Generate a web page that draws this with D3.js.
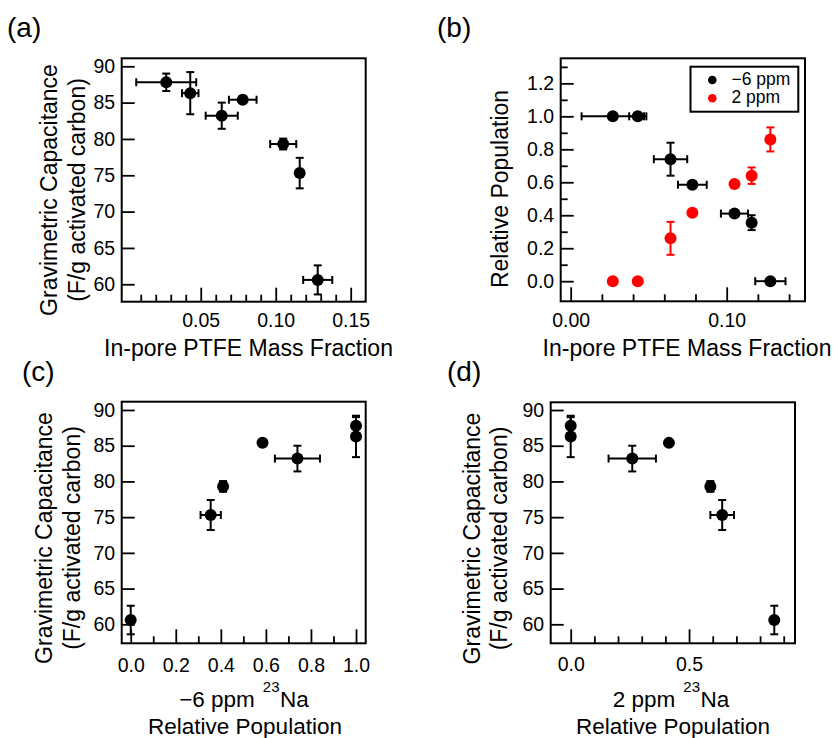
<!DOCTYPE html>
<html>
<head>
<meta charset="utf-8">
<script src="https://cdn.jsdelivr.net/npm/d3@7"></script>
<style>
  body { margin: 0; background: #fff; }
  svg { display: block; }
</style>
</head>
<body>
<svg id="fig" width="838" height="738"></svg>
<script>
// Seven electrodes, listed in order of increasing in-pore PTFE content
const ptfeFraction = [0.027, 0.043, 0.064, 0.078, 0.105, 0.116, 0.128];
const ptfeErr      = [0.020, 0.0055, 0.0107, 0.0092, 0.0087, 0, 0.0097];
const capacitance    = [87.8, 86.3, 83.2, 85.4, 79.3, 75.3, 60.6];
const capacitanceErr = [1.2, 2.9, 1.8, 0, 0.75, 2.1, 2.0];
// 23Na relative populations of the two environments
const popNeg6    = [1.0, 1.0, 0.74, 0.585, 0.41, 0.355, 0.0];
const popNeg6Err = [0, 0, 0.1, 0, 0, 0.045, 0];
const pop2       = [0, 0, 0.26, 0.415, 0.59, 0.64, 0.86];
const pop2Err    = [0, 0, 0.1, 0, 0, 0.05, 0.073];
const pop2XErr   = [0, 0, 0.1, 0, 0, 0.05, 0];

// Tick values
const capTicks = [60, 65, 70, 75, 80, 85, 90];
const ptfeTicksA = [0.05, 0.10, 0.15];
const ptfeMinorA = [0.01, 0.02, 0.03, 0.04, 0.06, 0.07, 0.08, 0.09, 0.11, 0.12, 0.13, 0.14];
const ptfeTicksB = [0.00, 0.10];
const ptfeMinorB = [0.02, 0.04, 0.06, 0.08, 0.12, 0.14];
const popTicksB = [0.0, 0.2, 0.4, 0.6, 0.8, 1.0, 1.2];
const popMinorB = [0.1, 0.3, 0.5, 0.7, 0.9, 1.1, 1.3];
const popTicksC = [0.0, 0.2, 0.4, 0.6, 0.8, 1.0];
const popMinorC = [0.1, 0.3, 0.5, 0.7, 0.9];
const popTicksD = [0.0, 0.5];
const popMinorD = [0.1, 0.2, 0.3, 0.4, 0.6, 0.7, 0.8, 0.9];

const FONT = '"Liberation Sans", Arial, Helvetica, sans-serif';
const BLACK = "#000000";
const RED = "#ff0000";

const svg = d3.select("#fig");

function panel(cfg) {
  const g = svg.append("g");
  const x = d3.scaleLinear().domain(cfg.xDomain).range([cfg.left, cfg.right]);
  const y = d3.scaleLinear().domain(cfg.yDomain).range([cfg.bottom, cfg.top]);

  const styleAxis = s => {
    s.select(".domain").remove();
    s.selectAll(".tick line").attr("stroke", BLACK).attr("stroke-width", 1.8);
    s.attr("font-family", FONT).attr("font-size", 19.5);
    s.selectAll(".tick text").attr("fill", BLACK);
  };

  // inward ticks on the bottom axis
  g.append("g").attr("transform", `translate(0,${cfg.bottom})`)
    .call(d3.axisBottom(x).tickValues(cfg.xMinor).tickSize(-7).tickFormat(""))
    .call(styleAxis);
  g.append("g").attr("transform", `translate(0,${cfg.bottom})`)
    .call(d3.axisBottom(x).tickValues(cfg.xMajor).tickSize(-14)
      .tickPadding(cfg.xPad).tickFormat(d3.format(cfg.xFmt)))
    .call(styleAxis);

  // inward ticks on the left axis
  if (cfg.yMinor) {
    g.append("g").attr("transform", `translate(${cfg.left},0)`)
      .call(d3.axisLeft(y).tickValues(cfg.yMinor).tickSize(-7).tickFormat(""))
      .call(styleAxis);
  }
  g.append("g").attr("transform", `translate(${cfg.left},0)`)
    .call(d3.axisLeft(y).tickValues(cfg.yMajor).tickSize(-13)
      .tickPadding(6.5).tickFormat(d3.format(cfg.yFmt)))
    .call(styleAxis);

  // frame
  g.append("rect")
    .attr("x", cfg.left).attr("y", cfg.top)
    .attr("width", cfg.right - cfg.left).attr("height", cfg.bottom - cfg.top)
    .attr("fill", "none").attr("stroke", BLACK).attr("stroke-width", 2);

  const cap = 4;
  cfg.series.forEach(s => {
    const eb = g.append("g").attr("stroke", s.color).attr("stroke-width", 2);
    s.xs.forEach((xv, i) => {
      const yv = s.ys[i];
      const cx = x(xv), cy = y(yv);
      const xe = s.xerr ? s.xerr[i] : 0;
      const ye = s.yerr ? s.yerr[i] : 0;
      if (xe > 0) {
        const x0 = x(xv - xe), x1 = x(xv + xe);
        eb.append("line").attr("x1", x0).attr("x2", x1).attr("y1", cy).attr("y2", cy);
        eb.append("line").attr("x1", x0).attr("x2", x0).attr("y1", cy - cap).attr("y2", cy + cap);
        eb.append("line").attr("x1", x1).attr("x2", x1).attr("y1", cy - cap).attr("y2", cy + cap);
      }
      if (ye > 0) {
        const y0 = y(yv - ye), y1 = y(yv + ye);
        eb.append("line").attr("x1", cx).attr("x2", cx).attr("y1", y0).attr("y2", y1);
        eb.append("line").attr("x1", cx - cap).attr("x2", cx + cap).attr("y1", y0).attr("y2", y0);
        eb.append("line").attr("x1", cx - cap).attr("x2", cx + cap).attr("y1", y1).attr("y2", y1);
      }
    });
    g.append("g").selectAll("circle")
      .data(s.xs.map((xv, i) => [xv, s.ys[i]]))
      .join("circle")
      .attr("cx", d => x(d[0])).attr("cy", d => y(d[1]))
      .attr("r", 6).attr("fill", s.color);
  });
  return { g, x, y };
}

function label(txt, xPos, yPos, size, opts = {}) {
  const t = svg.append("text")
    .attr("font-family", FONT).attr("font-size", size).attr("fill", BLACK)
    .attr("text-anchor", opts.anchor || "start");
  if (opts.rotate) {
    t.attr("transform", `translate(${xPos},${yPos}) rotate(-90)`);
  } else {
    t.attr("x", xPos).attr("y", yPos);
  }
  t.text(txt);
  return t;
}

// "<prefix> ²³Na" title line: three pieces laid out side by side, centred on cx
function naLabel(prefix, cx, baseline) {
  const mk = (txt, size) => svg.append("text")
    .attr("font-family", FONT).attr("font-size", size).attr("fill", BLACK).text(txt);
  const a = mk(prefix, 22.5), sup = mk("23", 15), na = mk("Na", 22.5);
  const gap1 = 8, gap2 = 0.5;
  const wa = a.node().getComputedTextLength();
  const ws = sup.node().getComputedTextLength();
  const wn = na.node().getComputedTextLength();
  const x0 = cx - (wa + gap1 + ws + gap2 + wn) / 2;
  a.attr("x", x0).attr("y", baseline);
  sup.attr("x", x0 + wa + gap1).attr("y", baseline - 15);
  na.attr("x", x0 + wa + gap1 + ws + gap2).attr("y", baseline);
}

// (a) capacitance vs PTFE fraction
panel({
  left: 121.7, right: 365.7, top: 58.3, bottom: 301.7,
  xDomain: [-0.0027, 0.16], yDomain: [57.6, 91.1],
  xMajor: ptfeTicksA, xMinor: ptfeMinorA, xFmt: ".2f", xPad: 11.5,
  yMajor: capTicks, yFmt: "d",
  series: [{ xs: ptfeFraction, ys: capacitance, xerr: ptfeErr, yerr: capacitanceErr, color: BLACK }]
});

// (b) relative populations vs PTFE fraction
panel({
  left: 560.7, right: 805, top: 58.3, bottom: 301.3,
  xDomain: [-0.0064, 0.1502], yDomain: [-0.122, 1.352],
  xMajor: ptfeTicksB, xMinor: ptfeMinorB, xFmt: ".2f", xPad: 12,
  yMajor: popTicksB, yMinor: popMinorB, yFmt: ".1f",
  series: [
    { xs: ptfeFraction, ys: popNeg6, xerr: ptfeErr, yerr: popNeg6Err, color: BLACK },
    { xs: ptfeFraction, ys: pop2, yerr: pop2Err, color: RED }
  ]
});

// (c) capacitance vs -6 ppm population
panel({
  left: 121.7, right: 365.7, top: 401.7, bottom: 643.3,
  xDomain: [-0.04, 1.043], yDomain: [57.34, 91.16],
  xMajor: popTicksC, xMinor: popMinorC, xFmt: ".1f", xPad: 14.5,
  yMajor: capTicks, yFmt: "d",
  series: [{ xs: popNeg6, ys: capacitance, xerr: popNeg6Err, yerr: capacitanceErr, color: BLACK }]
});

// (d) capacitance vs 2 ppm population
panel({
  left: 550.7, right: 795, top: 402.3, bottom: 643.3,
  xDomain: [-0.0845, 0.9476], yDomain: [57.34, 91.08],
  xMajor: popTicksD, xMinor: popMinorD, xFmt: ".1f", xPad: 14,
  yMajor: capTicks, yFmt: "d",
  series: [{ xs: pop2, ys: capacitance, xerr: pop2XErr, yerr: capacitanceErr, color: BLACK }]
});

// legend for (b)
const leg = svg.append("g");
leg.append("rect").attr("x", 690.5).attr("y", 66.7).attr("width", 107.8).attr("height", 45)
  .attr("fill", "#fff").attr("stroke", BLACK).attr("stroke-width", 2);
[["\u22126 ppm", BLACK, 80, 85], ["2 ppm", RED, 98.3, 103.3]].forEach(([t, c, cy, by]) => {
  leg.append("circle").attr("cx", 712.3).attr("cy", cy).attr("r", 4.3).attr("fill", c);
  leg.append("text").attr("x", 731.5).attr("y", by).attr("font-family", FONT)
    .attr("font-size", 17.5).attr("fill", BLACK).text(t);
});

// panel letters
label("(a)", 7, 37, 28);
label("(b)", 437, 37, 28);
label("(c)", 22, 381, 28);
label("(d)", 447, 381, 28);

// axis titles
label("Gravimetric Capacitance", 56.5, 190, 23, { rotate: true, anchor: "middle" });
label("(F/g activated carbon)", 85, 190, 23, { rotate: true, anchor: "middle" });
label("In-pore PTFE Mass Fraction", 248.5, 356, 23, { anchor: "middle" });

label("Relative Population", 507.5, 189, 23, { rotate: true, anchor: "middle" });
label("In-pore PTFE Mass Fraction", 687, 356, 23, { anchor: "middle" });

label("Gravimetric Capacitance", 51.5, 538, 23, { rotate: true, anchor: "middle" });
label("(F/g activated carbon)", 80, 538, 23, { rotate: true, anchor: "middle" });
naLabel("\u22126 ppm", 244, 707);
label("Relative Population", 245, 733.5, 22.5, { anchor: "middle" });

label("Gravimetric Capacitance", 479.5, 538.5, 23, { rotate: true, anchor: "middle" });
label("(F/g activated carbon)", 506.5, 538.5, 23, { rotate: true, anchor: "middle" });
naLabel("2 ppm", 671, 707);
label("Relative Population", 673, 733.5, 22.5, { anchor: "middle" });
</script>
</body>
</html>
